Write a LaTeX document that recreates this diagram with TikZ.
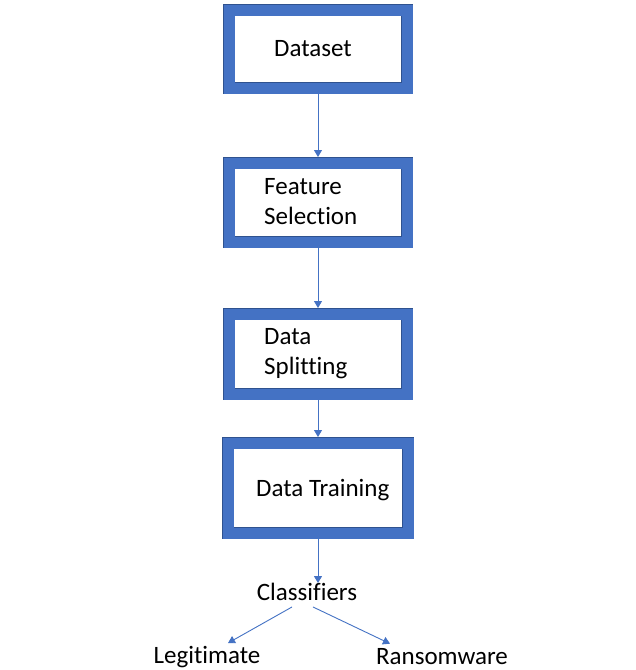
\documentclass[tikz,border=0pt]{standalone}
\usepackage{fontspec}
\setmainfont[Ligatures=NoCommon]{Carlito}
\usetikzlibrary{arrows.meta}
\definecolor{boxblue}{HTML}{4472C4}
\definecolor{edgeblue}{HTML}{2F528F}
\tikzset{
  flowbox/.style={draw=edgeblue, line width=0.6pt, double=boxblue, double distance=11pt, fill=white, minimum width=178pt, inner sep=0pt, outer sep=6pt},
  lbl/.style={font=\fontsize{25}{30}\selectfont, inner sep=0pt, anchor=west, align=left},
  txt/.style={font=\fontsize{25}{30}\selectfont, inner sep=0pt},
  conn/.style={draw=boxblue, line width=0.9pt, -{Triangle[width=8pt,length=7pt]}}
}
\begin{document}
\begin{tikzpicture}[x=1pt,y=-1pt]
\useasboundingbox (0,0) rectangle (636,670);
\fill[white] (0,0) rectangle (636,670);
\node[flowbox, minimum height=78pt] (b1) at (318,49) {};
\node[flowbox, minimum height=79pt] (b2) at (318,202.5) {};
\node[flowbox, minimum height=80pt] (b3) at (318,354) {};
\node[flowbox, minimum height=90pt, minimum width=180pt] (b4) at (318,488) {};
\node[lbl] (t1) at (274,49) {Dataset};
\node[lbl] (t2) at (264,202) {Feature\\Selection};
\node[lbl] (t3) at (264,354) {Data\\Splitting};
\node[lbl] (t4) at (256,490) {Data Training};
\node[txt] (cls) at (307,592) {Classifiers};
\node[txt] (leg) at (207,657) {Legitimate};
\node[txt] (ran) at (442,657) {Ransomware};
\draw[conn] (b1.south) -- (b2.north);
\draw[conn] (b2.south) -- (b3.north);
\draw[conn] (b3.south) -- (b4.north);
\draw[conn] (b4.south) -- (b4.south |- cls.north);
\draw[conn] ([xshift=-15pt,yshift=-6pt]cls.south) -- ([xshift=21pt,yshift=3pt]leg.north);
\draw[conn] ([xshift=6pt,yshift=-6pt]cls.south) -- ([xshift=-52pt,yshift=5pt]ran.north);
\end{tikzpicture}
\end{document}
